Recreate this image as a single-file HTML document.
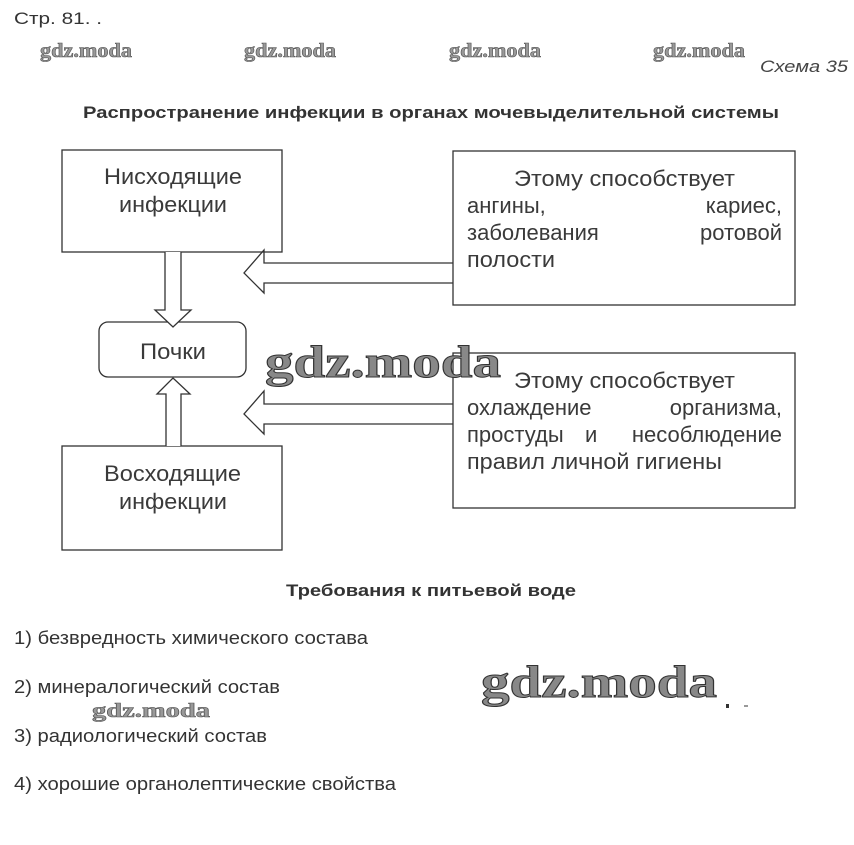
<!DOCTYPE html>
<html><head><meta charset="utf-8"><style>
html,body{margin:0;padding:0;background:#fff;}
svg{display:block}
</style></head><body>
<svg width="854" height="845" viewBox="0 0 854 845" xmlns="http://www.w3.org/2000/svg" font-family="Liberation Sans, sans-serif">
<rect width="854" height="845" fill="#fff"/>
<text x="14" y="24" font-size="17" fill="#333" textLength="88" lengthAdjust="spacingAndGlyphs">Стр. 81. .</text>
<g font-family="Liberation Serif, serif" font-weight="bold" font-size="20" fill="#999" stroke="#555" stroke-width="0.6">
<text x="40" y="57" textLength="92" lengthAdjust="spacingAndGlyphs">gdz.moda</text>
<text x="244" y="57" textLength="92" lengthAdjust="spacingAndGlyphs">gdz.moda</text>
<text x="449" y="57" textLength="92" lengthAdjust="spacingAndGlyphs">gdz.moda</text>
<text x="653" y="57" textLength="92" lengthAdjust="spacingAndGlyphs">gdz.moda</text>
<text x="92" y="717" textLength="118" lengthAdjust="spacingAndGlyphs">gdz.moda</text>
</g>
<text x="760" y="72" font-size="17" font-style="italic" fill="#444" textLength="88" lengthAdjust="spacingAndGlyphs">Схема 35</text>
<text x="83" y="118" font-size="17" font-weight="bold" fill="#333" textLength="696" lengthAdjust="spacingAndGlyphs">Распространение инфекции в органах мочевыделительной системы</text>

<g fill="none" stroke="#333" stroke-width="1.3">
<rect x="62" y="150" width="220" height="102"/>
<rect x="62" y="446" width="220" height="104"/>
<rect x="99" y="322" width="147" height="55" rx="9"/>
<rect x="453" y="151" width="342" height="154"/>
<rect x="453" y="353" width="342" height="155"/>
<path d="M165 252 V310 H155 L173 327 L191 310 H181 V252" fill="#fff"/>
<path d="M166 446 V394 H157 L173 378 L190 394 H181 V446" fill="#fff"/>
<path d="M453 263 H264 V250 L244 273 L264 293 V283 H453"/>
<path d="M453 404 H264 V391 L244 414 L264 434 V424 H453"/>
</g>

<g font-size="22" fill="#3a3a3a">
<text x="104" y="184" textLength="138" lengthAdjust="spacingAndGlyphs">Нисходящие</text>
<text x="119" y="212" textLength="108" lengthAdjust="spacingAndGlyphs">инфекции</text>
<text x="104" y="481" textLength="137" lengthAdjust="spacingAndGlyphs">Восходящие</text>
<text x="119" y="509" textLength="108" lengthAdjust="spacingAndGlyphs">инфекции</text>
<text x="140" y="359" textLength="66" lengthAdjust="spacingAndGlyphs">Почки</text>
<text x="514" y="186" textLength="221" lengthAdjust="spacingAndGlyphs">Этому способствует</text>
<text x="467" y="213">ангины,</text>
<text x="782" y="213" text-anchor="end">кариес,</text>
<text x="467" y="240">заболевания</text>
<text x="782" y="240" text-anchor="end">ротовой</text>
<text x="467" y="267" textLength="88" lengthAdjust="spacingAndGlyphs">полости</text>
<text x="514" y="388" textLength="221" lengthAdjust="spacingAndGlyphs">Этому способствует</text>
<text x="467" y="415">охлаждение</text>
<text x="782" y="415" text-anchor="end">организма,</text>
<text x="467" y="442">простуды</text>
<text x="585" y="442">и</text>
<text x="782" y="442" text-anchor="end">несоблюдение</text>
<text x="467" y="469" textLength="255" lengthAdjust="spacingAndGlyphs">правил личной гигиены</text>
</g>

<g font-family="Liberation Serif, serif" font-weight="bold" fill="#888" stroke="#333" stroke-width="1">
<text x="265" y="377" font-size="46" textLength="236" lengthAdjust="spacingAndGlyphs">gdz.moda</text>
<text x="481" y="697" font-size="46" textLength="236" lengthAdjust="spacingAndGlyphs">gdz.moda</text>
</g>
<rect x="726" y="704" width="3" height="4" fill="#333"/>
<rect x="744" y="705" width="4" height="2" fill="#999"/>

<text x="286" y="596" font-size="17" font-weight="bold" fill="#333" textLength="290" lengthAdjust="spacingAndGlyphs">Требования к питьевой воде</text>
<g font-size="18" fill="#333">
<text x="14" y="644" textLength="354" lengthAdjust="spacingAndGlyphs">1) безвредность химического состава</text>
<text x="14" y="693" textLength="266" lengthAdjust="spacingAndGlyphs">2) минералогический состав</text>
<text x="14" y="742" textLength="253" lengthAdjust="spacingAndGlyphs">3) радиологический состав</text>
<text x="14" y="790" textLength="382" lengthAdjust="spacingAndGlyphs">4) хорошие органолептические свойства</text>
</g>
</svg>
</body></html>
